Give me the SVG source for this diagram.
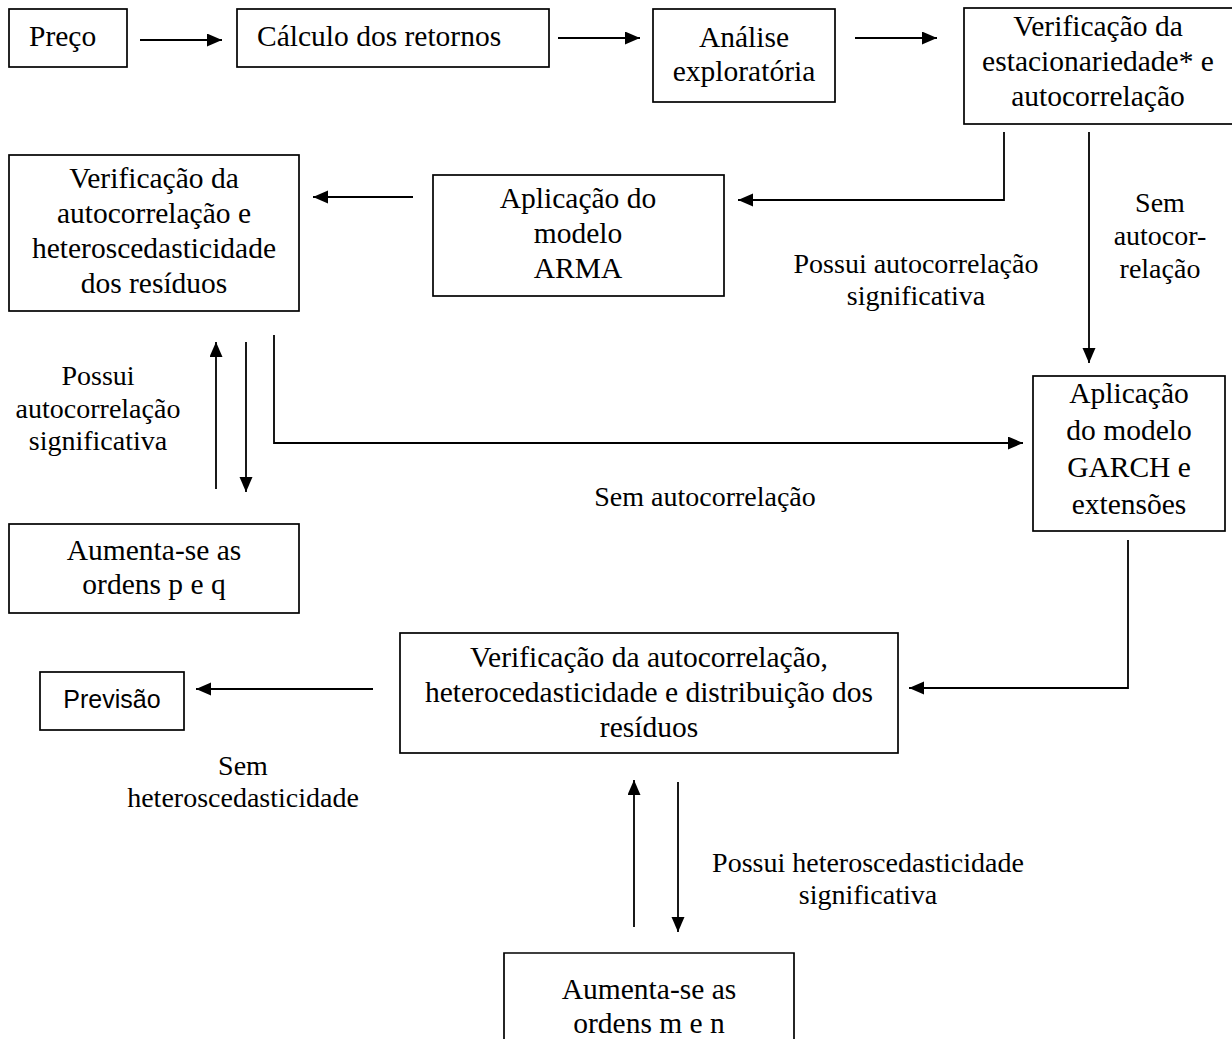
<svg xmlns="http://www.w3.org/2000/svg" width="1232" height="1039" viewBox="0 0 1232 1039">
<defs>
<style>
.box{fill:#fff;stroke:#000;stroke-width:1.7}
.open{fill:none;stroke:#000;stroke-width:1.7}
.t{font-family:"Liberation Serif","Times New Roman",serif;font-size:29.5px;fill:#000}
.lb{font-family:"Liberation Serif","Times New Roman",serif;font-size:28px;fill:#000;text-anchor:middle}
.c{text-anchor:middle}
.s{font-family:"Liberation Sans",Arial,sans-serif;font-size:25px;fill:#000}
.ln{fill:none;stroke:#000;stroke-width:1.8;marker-end:url(#ah)}
</style>
<marker id="ah" markerUnits="userSpaceOnUse" markerWidth="16" markerHeight="14" refX="15" refY="6.5" orient="auto">
<path d="M0,0 L15,6.5 L0,13 z" fill="#000"/>
</marker>
</defs>
<rect width="1232" height="1039" fill="#fff"/>

<g id="connectors">
<path class="ln" d="M140,40 H222"/>
<path class="ln" d="M558,38 H640"/>
<path class="ln" d="M855,38 H937"/>
<path class="ln" d="M1004,132 V200 H738"/>
<path class="ln" d="M413,197 H313"/>
<path class="ln" d="M1089,132 V363"/>
<path class="ln" d="M216,489 V342"/>
<path class="ln" d="M246,342 V492"/>
<path class="ln" d="M274,335 V443 H1023"/>
<path class="ln" d="M1128,540 V688 H909"/>
<path class="ln" d="M373,689 H196"/>
<path class="ln" d="M634,927 V780"/>
<path class="ln" d="M678,782 V932"/>
</g>

<g id="labels">
<text class="lb"><tspan x="916" y="273">Possui autocorrelação</tspan><tspan x="916" y="305">significativa</tspan></text>
<text class="lb"><tspan x="1160" y="212">Sem</tspan><tspan x="1160" y="245">autocor-</tspan><tspan x="1160" y="278">relação</tspan></text>
<text class="lb"><tspan x="98" y="385">Possui</tspan><tspan x="98" y="418">autocorrelação</tspan><tspan x="98" y="450">significativa</tspan></text>
<text class="lb" x="705" y="506">Sem autocorrelação</text>
<text class="lb"><tspan x="243" y="775">Sem</tspan><tspan x="243" y="807">heteroscedasticidade</tspan></text>
<text class="lb"><tspan x="868" y="872">Possui heteroscedasticidade</tspan><tspan x="868" y="904">significativa</tspan></text>
</g>

<g id="n-preco">
<rect class="box" x="9" y="9" width="118" height="58"/>
<text class="t" x="29" y="46">Preço</text>
</g>
<g id="n-calculo">
<rect class="box" x="237" y="9" width="312" height="58"/>
<text class="t" x="257" y="46">Cálculo dos retornos</text>
</g>
<g id="n-analise">
<rect class="box" x="653" y="9" width="182" height="93"/>
<text class="t c"><tspan x="744" y="47">Análise</tspan><tspan x="744" y="81">exploratória</tspan></text>
</g>
<g id="n-verif-estacionariedade">
<rect class="box" x="964" y="8" width="272" height="116"/>
<text class="t c"><tspan x="1098" y="36">Verificação da</tspan><tspan x="1098" y="71">estacionariedade* e</tspan><tspan x="1098" y="106">autocorrelação</tspan></text>
</g>
<g id="n-verif-residuos">
<rect class="box" x="9" y="155" width="290" height="156"/>
<text class="t c"><tspan x="154" y="188">Verificação da</tspan><tspan x="154" y="223">autocorrelação e</tspan><tspan x="154" y="258">heteroscedasticidade</tspan><tspan x="154" y="293">dos resíduos</tspan></text>
</g>
<g id="n-arma">
<rect class="box" x="433" y="175" width="291" height="121"/>
<text class="t c"><tspan x="578" y="208">Aplicação do</tspan><tspan x="578" y="243">modelo</tspan><tspan x="578" y="278">ARMA</tspan></text>
</g>
<g id="n-garch">
<rect class="box" x="1033" y="376" width="192" height="155"/>
<text class="t c"><tspan x="1129" y="403">Aplicação</tspan><tspan x="1129" y="440">do modelo</tspan><tspan x="1129" y="477">GARCH e</tspan><tspan x="1129" y="514">extensões</tspan></text>
</g>
<g id="n-aumenta-pq">
<rect class="box" x="9" y="524" width="290" height="89"/>
<text class="t c"><tspan x="154" y="560">Aumenta-se as</tspan><tspan x="154" y="594">ordens p e q</tspan></text>
</g>
<g id="n-previsao">
<rect class="box" x="40" y="672" width="144" height="58"/>
<text class="s c" x="112" y="708">Previsão</text>
</g>
<g id="n-verif-final">
<rect class="box" x="400" y="633" width="498" height="120"/>
<text class="t c"><tspan x="649" y="667">Verificação da autocorrelação,</tspan><tspan x="649" y="702">heterocedasticidade e distribuição dos</tspan><tspan x="649" y="737">resíduos</tspan></text>
</g>
<g id="n-aumenta-mn">
<path class="open" d="M504,1041 V953 H794 V1041"/>
<text class="t c"><tspan x="649" y="999">Aumenta-se as</tspan><tspan x="649" y="1033">ordens m e n</tspan></text>
</g>
</svg>
